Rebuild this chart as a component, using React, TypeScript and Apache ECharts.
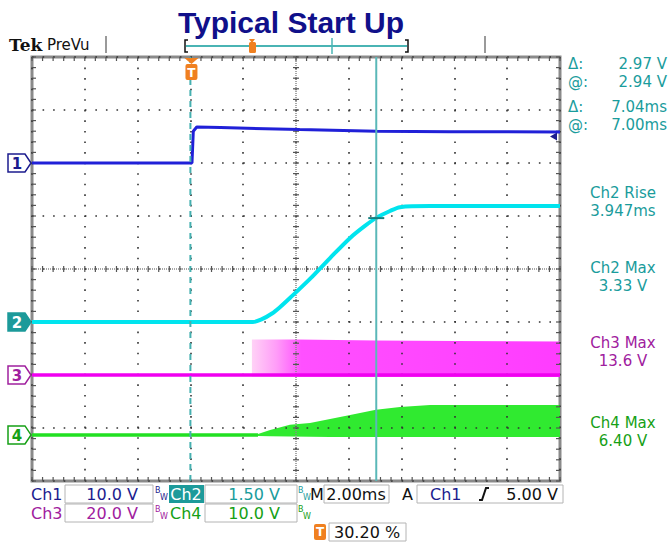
import React, { useEffect, useRef } from "react";
import * as echarts from "echarts";

// ---------- scope settings ----------
const timePerDivMs = 2.0;
const horizontalDivs = 10;
const verticalDivs = 8;
const triggerPercent = 30.2;
const channelNames = ["Ch1", "Ch2", "Ch3", "Ch4"];
const voltsPerDiv = [10.0, 1.5, 20.0, 10.0];
const groundDiv = [2.0, -1.0, -2.0, -3.13];
const triggerLevelV = 5.0;
const cursorTimesMs = [-0.04, 7.0];
const cursorCh2ValueV = 2.94;

// ---------- waveform readings (time in ms relative to trigger, volts) ----------
const ch1Time = [-6.04, 0.02, 0.07, 0.2, 1.1, 4.1, 7.0, 9.8, 13.96];
const ch1Volts = [0.0, 0.0, 6.0, 6.8, 6.7, 6.3, 6.0, 5.9, 5.85];

const ch2Time = [-6.04, 2.33, 2.67, 3.05, 3.35, 3.73, 4.49, 5.25, 6.01, 6.57, 6.99, 7.52, 7.9, 9.04, 13.96];
const ch2Volts = [0, 0, 0.08, 0.24, 0.42, 0.68, 1.22, 1.81, 2.38, 2.72, 2.94, 3.14, 3.25, 3.28, 3.28];

const ch3BaseTime = [-6.04, 13.96];
const ch3BaseVolts = [0, 0];
const ch3BandTime = [2.29, 4.0, 7.0, 10.0, 13.96];
const ch3BandHigh = [13.4, 13.4, 13.0, 12.8, 12.6];
const ch3BandLow = [-0.7, -0.7, -0.8, -0.8, -0.8];

const ch4BaseTime = [-6.04, 2.52];
const ch4BaseVolts = [0, 0];
const ch4BandTime = [2.52, 2.98, 3.73, 4.49, 5.25, 6.01, 6.99, 7.9, 9.04, 13.96];
const ch4BandHigh = [0.19, 0.94, 1.89, 2.26, 3.02, 3.77, 4.72, 5.28, 5.66, 5.66];
const ch4BandLow = [-0.2, -0.25, -0.3, -0.35, -0.4, -0.4, -0.4, -0.4, -0.4, -0.4];

// ---------- readouts ----------
const cursorReadoutLabels = ["Δ:", "@:", "Δ:", "@:"];
const cursorReadoutValues = ["2.97 V", "2.94 V", "7.04ms", "7.00ms"];
const measureTitles = ["Ch2 Rise", "Ch2 Max", "Ch3 Max", "Ch4 Max"];
const measureValues = ["3.947ms", "3.33 V", "13.6 V", "6.40 V"];
const measureChannel = [1, 1, 2, 3];

// ---------- styles ----------
const traceColors = ["#2020d8", "#00e4ee", "#f000f0", "#22e022"];
const textColors = ["#1c1c8e", "#1a9c9c", "#a0209e", "#16a016"];
const FONT = "DejaVu Sans";
const SCREEN_MS = timePerDivMs * horizontalDivs;
const trigOffset = (triggerPercent / 100) * SCREEN_MS;
const HALF_Y = verticalDivs / 2;

const sx = (t: number) => t + trigOffset;
const sy = (ch: number, v: number) => groundDiv[ch] + v / voltsPerDiv[ch];
const pts = (ch: number, ts: number[], vs: number[]) => ts.map((t, i) => [sx(t), sy(ch, vs[i])]);

function bandSeries(ch: number, ts: number[], hi: number[], lo: number[], fill: any) {
  return {
    type: "custom",
    coordinateSystem: "cartesian2d",
    z: 2,
    silent: true,
    data: [[sx(ts[0]), sy(ch, hi[0])]],
    renderItem: (_p: any, api: any) => {
      const top = ts.map((t, i) => api.coord([sx(t), sy(ch, hi[i])]));
      const bot = ts.map((t, i) => api.coord([sx(t), sy(ch, lo[i])])).reverse();
      return { type: "polygon", shape: { points: top.concat(bot) }, style: { fill } };
    },
  };
}

function lineSeries(data: number[][], color: string, width: number, z = 4, extra: any = {}) {
  const { smooth, ...ls } = extra;
  return {
    type: "line",
    data,
    symbol: "none",
    silent: true,
    z,
    lineStyle: { color, width, ...ls },
    ...(smooth !== undefined ? { smooth } : {}),
  };
}

function txt(x: number, y: number, text: string, fill: string, align = "left", size = 16, weight = "normal", family = FONT, lh?: number) {
  return {
    type: "text",
    x,
    y,
    silent: true,
    style: {
      text,
      fill,
      font: `${weight} ${size}px "${family}"`,
      textAlign: align,
      textVerticalAlign: "middle",
      lineHeight: lh ?? size,
    },
  };
}
function box(x: number, y: number, w: number, h: number) {
  return { type: "rect", silent: true, shape: { x, y, width: w, height: h }, style: { fill: "#fff", stroke: "#b4b4b4", lineWidth: 1 } };
}
function bw(x: number, y: number, color: string) {
  return [txt(x, y - 4, "B", color, "left", 8, "normal", FONT, 7), txt(x + 5, y + 3, "W", color, "left", 8, "normal", FONT, 7)];
}

function buildOption() {
  const vfmt = (v: number) => v.toPrecision(3) + " V";
  const graphic: any[] = [
    {
      type: "text",
      x: 291,
      y: 22,
      silent: true,
      style: { text: "Typical Start Up", fill: "#10108a", font: 'bold 30px "Liberation Sans"', textAlign: "center", textVerticalAlign: "middle" },
    },
    txt(9, 45, "Tek", "#111", "left", 17, "bold", "DejaVu Serif"),
    txt(47, 45, "PreVu", "#111", "left", 15),
    { type: "line", silent: true, shape: { x1: 106, y1: 36, x2: 106, y2: 53 }, style: { stroke: "#9a9a9a", lineWidth: 2 } },
    { type: "line", silent: true, shape: { x1: 485, y1: 36, x2: 485, y2: 53 }, style: { stroke: "#9a9a9a", lineWidth: 2 } },
    { type: "polyline", silent: true, shape: { points: [[188, 40], [185, 40], [185, 52], [188, 52]] }, style: { stroke: "#111", lineWidth: 1.5, fill: null } },
    { type: "polyline", silent: true, shape: { points: [[405, 40], [408, 40], [408, 52], [405, 52]] }, style: { stroke: "#111", lineWidth: 1.5, fill: null } },
    { type: "line", silent: true, shape: { x1: 186, y1: 46, x2: 407, y2: 46 }, style: { stroke: "#4ab4b4", lineWidth: 2 } },
    { type: "line", silent: true, shape: { x1: 332, y1: 38, x2: 332, y2: 54 }, style: { stroke: "#4ab4b4", lineWidth: 1.5 } },
    { type: "polygon", silent: true, shape: { points: [[249, 39], [255, 39], [252, 43]] }, style: { fill: "#f08020" } },
    { type: "rect", silent: true, shape: { x: 249, y: 42, width: 7, height: 11, r: 1.5 }, style: { fill: "#f08020" } },
  ];
  // right panel readouts
  const readY = [64, 82, 107, 125];
  cursorReadoutLabels.forEach((l, i) => {
    graphic.push(txt(568, readY[i], l, textColors[1], "left", 15, "normal", FONT, 15));
    graphic.push(txt(667, readY[i], cursorReadoutValues[i], textColors[1], "right", 15, "normal", FONT, 15));
  });
  const measY = [193, 268, 343, 423];
  measureTitles.forEach((t, i) => {
    const c = textColors[measureChannel[i]];
    graphic.push(txt(623, measY[i], t, c, "center", 15, "normal", FONT, 15));
    graphic.push(txt(623, measY[i] + 18, measureValues[i], c, "center", 15, "normal", FONT, 15));
  });
  // bottom info rows
  const r1 = 494, r2 = 513, r3 = 532;
  graphic.push(
    txt(31, r1, channelNames[0], textColors[0]),
    box(65, r1 - 9, 88, 18),
    txt(138, r1, vfmt(voltsPerDiv[0]), textColors[0], "right"),
    ...bw(155, r1, textColors[0]),
    { type: "rect", silent: true, shape: { x: 169, y: r1 - 9, width: 35, height: 18 }, style: { fill: "#1d9a9a" } },
    txt(186, r1, channelNames[1], "#fff", "center"),
    box(205, r1 - 9, 92, 18),
    txt(280, r1, vfmt(voltsPerDiv[1]), textColors[1], "right"),
    ...bw(298, r1, textColors[1]),
    txt(310, r1, "M", "#111"),
    box(324, r1 - 9, 65, 18),
    txt(356, r1, timePerDivMs.toFixed(2) + "ms", "#111", "center"),
    txt(402, r1, "A", "#111"),
    box(417, r1 - 9, 146, 18),
    txt(430, r1, channelNames[0], textColors[0]),
    { type: "polyline", silent: true, shape: { points: [[479, r1 + 6], [482, r1 + 6], [486, r1 - 6], [489, r1 - 6]] }, style: { stroke: "#111", lineWidth: 2, fill: null } },
    txt(558, r1, vfmt(triggerLevelV), "#111", "right"),

    txt(31, r2, channelNames[2], textColors[2]),
    box(65, r2 - 9, 88, 18),
    txt(138, r2, vfmt(voltsPerDiv[2]), textColors[2], "right"),
    ...bw(155, r2, textColors[2]),
    txt(170, r2, channelNames[3], textColors[3]),
    box(205, r2 - 9, 92, 18),
    txt(280, r2, vfmt(voltsPerDiv[3]), textColors[3], "right"),
    ...bw(298, r2, textColors[3]),

    { type: "rect", silent: true, shape: { x: 314, y: r3 - 8, width: 12, height: 16, r: 2 }, style: { fill: "#f08020" } },
    txt(320, r3, "T", "#fff", "center", 12, "bold"),
    box(329, r3 - 9, 77, 18),
    txt(334, r3, triggerPercent.toFixed(2) + " %", "#111")
  );

  const graticule = {
    type: "custom",
    coordinateSystem: "cartesian2d",
    z: 3,
    silent: true,
    clip: false,
    data: [[0, 0]],
    renderItem: (_p: any, api: any) => {
      const ch: any[] = [];
      const c = (x: number, y: number) => api.coord([x, y]);
      const [xl, yb] = c(0, -HALF_Y);
      const [xr, yt] = c(SCREEN_MS, HALF_Y);
      const [xc, yc] = c(SCREEN_MS / 2, 0);
      const tick = { stroke: "#555", lineWidth: 1.2 };
      ch.push({ type: "line", shape: { x1: xl, y1: yc, x2: xr, y2: yc }, style: { stroke: "#8a8a8a", lineWidth: 1.5, lineDash: [1, 1] } });
      ch.push({ type: "line", shape: { x1: xc, y1: yt, x2: xc, y2: yb }, style: { stroke: "#8a8a8a", lineWidth: 1.5, lineDash: [1, 1] } });
      const nx = horizontalDivs * 5;
      for (let i = 0; i <= nx; i++) {
        const x = c((i * SCREEN_MS) / nx, 0)[0];
        ch.push({ type: "line", shape: { x1: x, y1: yc - 3, x2: x, y2: yc + 3 }, style: tick });
        ch.push({ type: "line", shape: { x1: x, y1: yt, x2: x, y2: yt + 4 }, style: tick });
        ch.push({ type: "line", shape: { x1: x, y1: yb - 4, x2: x, y2: yb }, style: tick });
      }
      const ny = verticalDivs * 5;
      for (let j = 0; j <= ny; j++) {
        const y = c(0, -HALF_Y + (j * verticalDivs) / ny)[1];
        ch.push({ type: "line", shape: { x1: xc - 3, y1: y, x2: xc + 3, y2: y }, style: tick });
        ch.push({ type: "line", shape: { x1: xl, y1: y, x2: xl + 4, y2: y }, style: tick });
        ch.push({ type: "line", shape: { x1: xr - 4, y1: y, x2: xr, y2: y }, style: tick });
      }
      return { type: "group", children: ch };
    },
  };

  const markerSeries = {
    type: "custom",
    coordinateSystem: "cartesian2d",
    z: 6,
    silent: true,
    clip: false,
    data: groundDiv.map((g, i) => [0, g, i]),
    renderItem: (_p: any, api: any) => {
      const i = api.value(2);
      const [x, y] = api.coord([api.value(0), api.value(1)]);
      const filled = i === 1;
      const col = i === 1 ? "#1d9a9a" : textColors[i];
      return {
        type: "group",
        children: [
          {
            type: "polygon",
            shape: { points: [[x - 24, y - 9], [x - 7, y - 9], [x - 1, y], [x - 7, y + 9], [x - 24, y + 9]] },
            style: { fill: filled ? col : "#fff", stroke: col, lineWidth: 1.5 },
          },
          {
            type: "text",
            x: x - 15,
            y: y + 1,
            style: { text: String(i + 1), fill: filled ? "#fff" : col, font: `bold 15px "${FONT}"`, textAlign: "center", textVerticalAlign: "middle" },
          },
        ],
      };
    },
  };

  const trigArrow = {
    type: "custom",
    coordinateSystem: "cartesian2d",
    z: 6,
    silent: true,
    clip: false,
    data: [[SCREEN_MS, sy(0, triggerLevelV)]],
    renderItem: (_p: any, api: any) => {
      const [x, y] = api.coord([api.value(0), api.value(1)]);
      return { type: "polygon", shape: { points: [[x - 10, y], [x - 3, y - 4], [x - 3, y + 4]] }, style: { fill: textColors[0] } };
    },
  };

  const trigMarker = {
    type: "custom",
    coordinateSystem: "cartesian2d",
    z: 7,
    silent: true,
    clip: false,
    data: [[sx(0), HALF_Y]],
    renderItem: (_p: any, api: any) => {
      const [x, y] = api.coord([api.value(0), api.value(1)]);
      return {
        type: "group",
        children: [
          { type: "polygon", shape: { points: [[x - 7, y + 1], [x + 7, y + 1], [x, y + 7]] }, style: { fill: "#f08020" } },
          { type: "rect", shape: { x: x - 6, y: y + 7, width: 12, height: 16, r: 2 }, style: { fill: "#f08020" } },
          { type: "text", x, y: y + 15.5, style: { text: "T", fill: "#fff", font: `bold 12px "${FONT}"`, textAlign: "center", textVerticalAlign: "middle" } },
        ],
      };
    },
  };

  const crossMark = {
    type: "custom",
    coordinateSystem: "cartesian2d",
    z: 6,
    silent: true,
    data: [[sx(cursorTimesMs[1]), sy(1, cursorCh2ValueV)]],
    renderItem: (_p: any, api: any) => {
      const [x, y] = api.coord([api.value(0), api.value(1)]);
      return { type: "line", shape: { x1: x - 8, y1: y, x2: x + 8, y2: y }, style: { stroke: "#137f7f", lineWidth: 2 } };
    },
  };

  const axisCommon = {
    type: "value",
    axisLabel: { show: false },
    axisTick: { show: false },
    axisLine: { show: false },
    z: 3,
    splitLine: { show: true, lineStyle: { color: "#333", width: 1.6, type: [1.6, 8.96] } },
  };

  const ch3Fill = new echarts.graphic.LinearGradient(0, 0, 1, 0, [
    { offset: 0, color: "#ffd2f6" },
    { offset: 0.08, color: "#ff9cf8" },
    { offset: 0.16, color: "#ff50ff" },
    { offset: 1, color: "#ff3cff" },
  ]);

  return {
    animation: false,
    backgroundColor: "#fff",
    grid: { left: 32, top: 57, width: 528, height: 424, show: true, borderColor: "#8a8a8a", borderWidth: 3, backgroundColor: "#fff" },
    xAxis: { ...axisCommon, min: 0, max: SCREEN_MS, interval: timePerDivMs },
    yAxis: { ...axisCommon, min: -HALF_Y, max: HALF_Y, interval: 1 },
    graphic,
    series: [
      bandSeries(3, ch4BandTime, ch4BandHigh, ch4BandLow, "#30ea30"),
      bandSeries(2, ch3BandTime, ch3BandHigh, ch3BandLow, ch3Fill),
      graticule,
      lineSeries(pts(3, ch4BaseTime, ch4BaseVolts), traceColors[3], 3.5),
      lineSeries(pts(2, ch3BaseTime, ch3BaseVolts), traceColors[2], 3.5),
      lineSeries(pts(1, ch2Time, ch2Volts), traceColors[1], 4, 4, { smooth: 0.3 }),
      lineSeries(pts(0, ch1Time, ch1Volts), traceColors[0], 3),
      lineSeries([[sx(cursorTimesMs[1]), -HALF_Y], [sx(cursorTimesMs[1]), HALF_Y]], "#5ab8b8", 2, 5),
      lineSeries([[sx(cursorTimesMs[0]), -HALF_Y], [sx(cursorTimesMs[0]), HALF_Y]], "#45b0b0", 2, 5, { type: [6, 5] }),
      crossMark,
      markerSeries,
      trigArrow,
      trigMarker,
    ],
  };
}

export default function App() {
  const ref = useRef<HTMLDivElement>(null);
  useEffect(() => {
    const chart = echarts.init(ref.current!, null, { renderer: "svg" });
    chart.setOption(buildOption() as any);
    return () => chart.dispose();
  }, []);
  return (
    <div
      ref={ref}
      style={{ position: "fixed", left: 0, top: 0, width: 669, height: 544, background: "#fff" }}
    />
  );
}
